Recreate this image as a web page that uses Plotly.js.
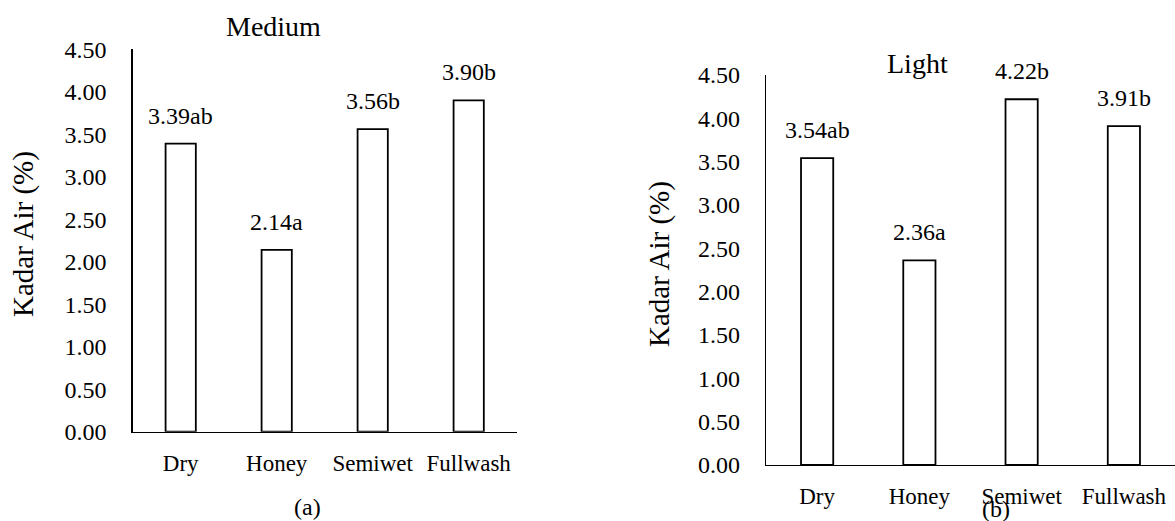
<!DOCTYPE html>
<html>
<head>
<meta charset="utf-8">
<script src="https://cdn.plot.ly/plotly-3.0.1.min.js"></script>
<style>
  html, body { margin: 0; padding: 0; background: #ffffff; }
  #chart { width: 1175px; height: 521px; }
</style>
</head>
<body>
<div id="chart"></div>
<script>
// ---- data ----
const categories = ['Dry', 'Honey', 'Semiwet', 'Fullwash'];
const mediumValues = [3.39, 2.14, 3.56, 3.90];
const mediumLabels = ['3.39ab', '2.14a', '3.56b', '3.90b'];
const lightValues = [3.54, 2.36, 4.22, 3.91];
const lightLabels = ['3.54ab', '2.36a', '4.22b', '3.91b'];
const yAxisTitle = 'Kadar Air (%)';
const panelTitles = ['Medium', 'Light'];
const panelTags = ['(a)', '(b)'];

// ---- styling ----
const W = 1175, H = 521;
const FONT = "'Liberation Serif', 'Times New Roman', serif";
const px = v => v / W;          // pixel x -> paper
const py = v => 1 - v / H;      // pixel y -> paper

const barStyle = {
  type: 'bar',
  width: 0.315,
  marker: { color: '#ffffff', line: { color: '#000000', width: 1.8 } },
  hoverinfo: 'skip',
  showlegend: false
};

const traces = [
  Object.assign({}, barStyle, { x: categories, y: mediumValues, xaxis: 'x', yaxis: 'y' }),
  Object.assign({}, barStyle, { x: categories, y: lightValues, xaxis: 'x2', yaxis: 'y2' })
];

function xAxis(domain, anchor) {
  return {
    domain: domain, anchor: anchor,
    type: 'category', range: [-0.5, 3.5],
    showline: true, linecolor: '#000000', linewidth: 1.3,
    showgrid: false, zeroline: false, ticks: '',
    ticklabelstandoff: 10,
    tickfont: { family: FONT, size: 23, color: '#000000' },
    fixedrange: true
  };
}
function yAxis(domain, anchor) {
  return {
    domain: domain, anchor: anchor,
    range: [0, 4.5], dtick: 0.5, tick0: 0, tickformat: '.2f',
    showline: true, linecolor: '#000000', linewidth: 1.3,
    showgrid: false, zeroline: false, ticks: '',
    ticklabelstandoff: 20,
    tickfont: { family: FONT, size: 24, color: '#000000' },
    fixedrange: true
  };
}

const annotations = [];
function addLabels(values, labels, xref, yref) {
  values.forEach((v, i) => {
    annotations.push({
      x: categories[i], y: v, xref: xref, yref: yref,
      text: labels[i], showarrow: false,
      xanchor: 'center', yanchor: 'bottom', yshift: 13,
      font: { family: FONT, size: 24, color: '#000000' }
    });
  });
}
addLabels(mediumValues, mediumLabels, 'x', 'y');
addLabels(lightValues, lightLabels, 'x2', 'y2');

// panel titles
annotations.push({ x: px(273), y: py(26), xref: 'paper', yref: 'paper', text: panelTitles[0],
  showarrow: false, xanchor: 'center', yanchor: 'middle', font: { family: FONT, size: 28, color: '#000000' } });
annotations.push({ x: px(917), y: py(64), xref: 'paper', yref: 'paper', text: panelTitles[1],
  showarrow: false, xanchor: 'center', yanchor: 'middle', font: { family: FONT, size: 28, color: '#000000' } });
// y axis titles
annotations.push({ x: px(23), y: py(234), xref: 'paper', yref: 'paper', text: yAxisTitle, textangle: -90,
  showarrow: false, xanchor: 'center', yanchor: 'middle', font: { family: FONT, size: 29, color: '#000000' } });
annotations.push({ x: px(659), y: py(264), xref: 'paper', yref: 'paper', text: yAxisTitle, textangle: -90,
  showarrow: false, xanchor: 'center', yanchor: 'middle', font: { family: FONT, size: 29, color: '#000000' } });
// panel tags
annotations.push({ x: px(307), y: py(507), xref: 'paper', yref: 'paper', text: panelTags[0],
  showarrow: false, xanchor: 'center', yanchor: 'middle', font: { family: FONT, size: 24, color: '#000000' } });
annotations.push({ x: px(996), y: py(509), xref: 'paper', yref: 'paper', text: panelTags[1],
  showarrow: false, xanchor: 'center', yanchor: 'middle', font: { family: FONT, size: 24, color: '#000000' } });

const layout = {
  width: W, height: H,
  margin: { l: 0, r: 0, t: 0, b: 0, pad: 0 },
  paper_bgcolor: '#ffffff', plot_bgcolor: '#ffffff',
  showlegend: false,
  font: { family: FONT, color: '#000000' },
  xaxis: xAxis([px(132.7), px(516.7)], 'y'),
  yaxis: yAxis([py(431.7), py(49.3)], 'x'),
  xaxis2: xAxis([px(766), 1.0], 'y2'),
  yaxis2: yAxis([py(465), py(75)], 'x2'),
  annotations: annotations
};

Plotly.newPlot('chart', traces, layout, { staticPlot: true, displayModeBar: false });
</script>
</body>
</html>
